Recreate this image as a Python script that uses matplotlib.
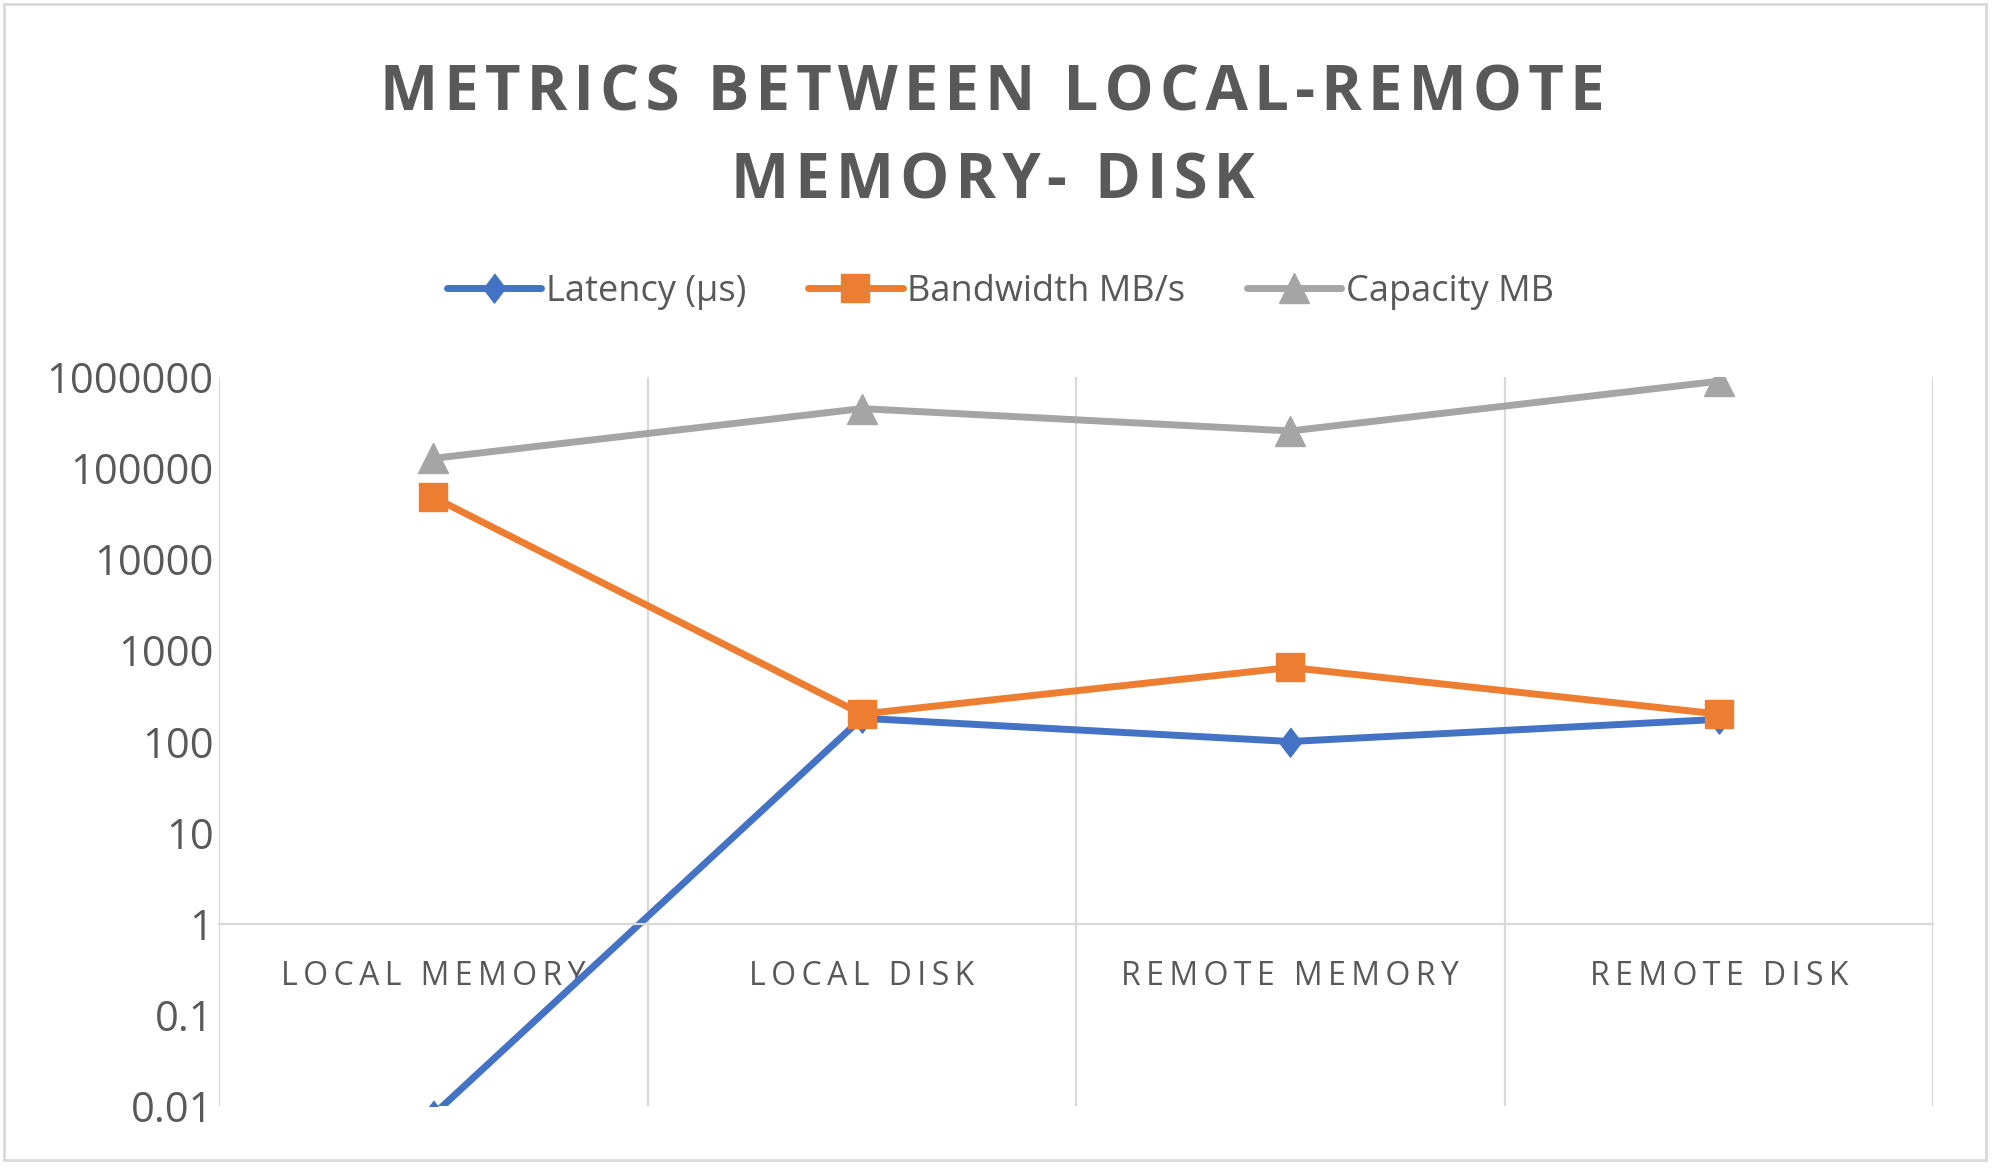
import matplotlib
matplotlib.use('Agg')
import numpy as np
import matplotlib.pyplot as plt
from matplotlib.ticker import FixedLocator, NullLocator, FuncFormatter
from matplotlib.patches import Rectangle

categories = ['LOCAL MEMORY', 'LOCAL DISK', 'REMOTE MEMORY', 'REMOTE DISK']
latency_us = [0.008, 180, 100, 175]
bandwidth_mbs = [48000, 200, 650, 200]
capacity_mb = [128000, 450000, 256000, 900000]
y_ticks = [0.01, 0.1, 1, 10, 100, 1000, 10000, 100000, 1000000]

TXT = '#595959'
GRID = '#D9D9D9'
plt.rcParams['font.family'] = ['Open Sans', 'DejaVu Sans']

def spaced(s, gap='\u2009'):
    # excel-ish letter spacing
    return gap.join(s)

diamond = [(0, 1), (0.76, 0), (0, -1), (-0.76, 0)]

fig = plt.figure(figsize=(19.93, 11.68), dpi=100)
ax = fig.add_axes([0.1099, 0.0531, 0.86, 0.6241])

x = np.arange(len(categories))
ax.plot(x, latency_us, color='#4472C4', lw=5, marker=diamond, ms=21,
        label='Latency (µs)', solid_joinstyle='round', solid_capstyle='round')
ax.plot(x, bandwidth_mbs, color='#ED7D31', lw=5, marker='s', ms=20,
        label='Bandwidth MB/s', solid_joinstyle='round', solid_capstyle='round')
ax.plot(x, capacity_mb, color='#A5A5A5', lw=5, marker='^', ms=21,
        label='Capacity MB', solid_joinstyle='round', solid_capstyle='round')

ax.set_yscale('log')
ax.set_ylim(0.01, 1e6)
ax.set_xlim(-0.5, 3.5)
ax.yaxis.set_major_locator(FixedLocator(y_ticks))
ax.yaxis.set_minor_locator(NullLocator())
ax.yaxis.set_major_formatter(FuncFormatter(lambda v, _: f'{v:.0f}' if v >= 1 else f'{v:g}'))
ax.tick_params(axis='y', which='both', length=0, pad=4, labelsize=30, labelcolor=TXT)

ax.set_xticks(x, [spaced(c) for c in categories])
ax.xaxis.set_minor_locator(FixedLocator(np.arange(-0.5, 4, 1)))
ax.tick_params(axis='x', which='both', length=0, pad=26, labelsize=23, labelcolor=TXT)
ax.grid(axis='x', which='minor', color=GRID, lw=1.6)
ax.grid(axis='x', which='major', visible=False)
ax.set_axisbelow(True)

for s in ['left', 'right', 'top']:
    ax.spines[s].set_visible(False)
ax.spines['bottom'].set_position(('data', 1))
ax.spines['bottom'].set_color(GRID)
ax.spines['bottom'].set_linewidth(1.6)

fig.legend(loc='center', bbox_to_anchor=(0.502, 0.75), ncol=3, frameon=False,
           fontsize=26, labelcolor=TXT, handlelength=2.62, handletextpad=0.13,
           columnspacing=1.7)

fig.text(0.498, 1 - 94/1168, spaced('METRICS BETWEEN LOCAL-REMOTE', '\u200a'),
         ha='center', va='center', fontsize=44.5, fontweight='bold', color=TXT)
fig.text(0.498, 1 - 182/1168, spaced('MEMORY- DISK', '\u200a'),
         ha='center', va='center', fontsize=44.5, fontweight='bold', color=TXT)

fig.patches.append(Rectangle((4/1993, 8/1168), 1982/1993, 1156/1168,
                             transform=fig.transFigure, fill=False, ec=GRID, lw=2))

fig.savefig('out.png', dpi=100)
print("Done")
